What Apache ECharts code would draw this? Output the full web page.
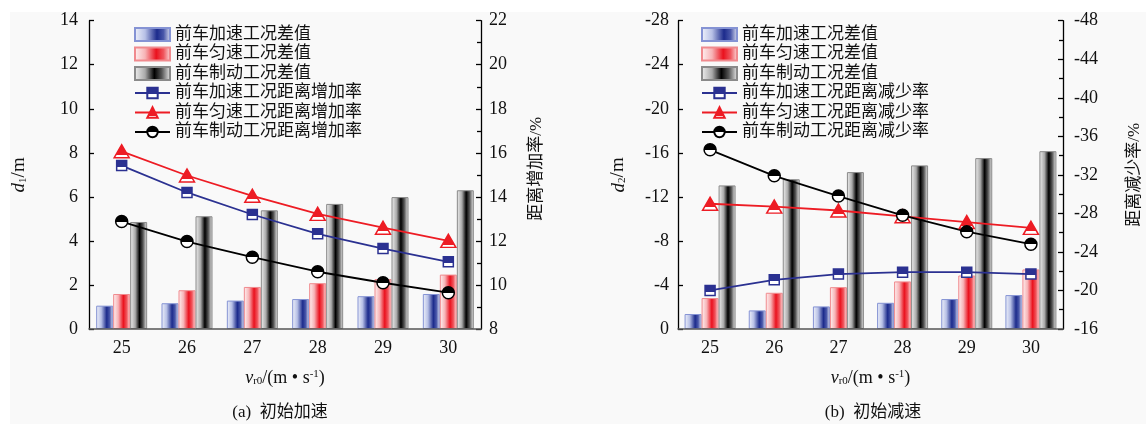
<!DOCTYPE html>
<html>
<head>
<meta charset="utf-8">
<script src="https://cdn.jsdelivr.net/npm/echarts@6/dist/echarts.min.js"></script>
<style>
  html, body { margin: 0; padding: 0; background: #fff; }
  #main { width: 1146px; height: 424px; }
</style>
</head>
<body>
<div id="main"></div>
<script>
// 横轴 v_r0
var categories = ['25', '26', '27', '28', '29', '30'];

// (a) 初始加速
var accBarA = [1.06, 1.17, 1.29, 1.36, 1.49, 1.59];
var uniBarA = [1.59, 1.76, 1.91, 2.08, 2.27, 2.47];
var brkBarA = [4.86, 5.12, 5.39, 5.68, 5.99, 6.30];
var accRateA = [15.42, 14.2, 13.2, 12.32, 11.65, 11.05];
var uniRateA = [16.07, 14.97, 14.05, 13.23, 12.6, 12.0];
var brkRateA = [12.88, 11.97, 11.26, 10.6, 10.1, 9.65];

// (b) 初始减速
var accBarB = [-1.36, -1.69, -2.05, -2.38, -2.72, -3.08];
var uniBarB = [-2.81, -3.29, -3.80, -4.32, -4.86, -5.41];
var brkBarB = [-13.04, -13.6, -14.25, -14.86, -15.52, -16.15];
var accRateB = [-20.0, -21.1, -21.7, -21.9, -21.9, -21.7];
var uniRateB = [-29.0, -28.7, -28.3, -27.7, -27.1, -26.5];
var brkRateB = [-34.6, -31.9, -29.8, -27.8, -26.1, -24.8];

// 坐标刻度
var leftTicksA = [0, 2, 4, 6, 8, 10, 12, 14];
var rightTicksA = [8, 10, 12, 14, 16, 18, 20, 22];
var leftTicksB = [-28, -24, -20, -16, -12, -8, -4, 0];
var rightTicksB = [-48, -44, -40, -36, -32, -28, -24, -20, -16];

var barNames = ['前车加速工况差值', '前车匀速工况差值', '前车制动工况差值'];
var lineNamesA = ['前车加速工况距离增加率', '前车匀速工况距离增加率', '前车制动工况距离增加率'];
var lineNamesB = ['前车加速工况距离减少率', '前车匀速工况距离减少率', '前车制动工况距离减少率'];

var SERIF = "'Liberation Serif', 'Noto Sans CJK SC'";
var BLUE = '#2b3191', RED = '#ed1c24', BLACK = '#000';

function hGrad(stops) {
  return {
    type: 'linear', x: 0, y: 0, x2: 1, y2: 0,
    colorStops: stops.map(function (s) { return { offset: s[0], color: s[1] }; })
  };
}
// 半填充的标记
function halfFill(c, k) {
  return {
    type: 'linear', x: 0, y: 0, x2: 0, y2: 1,
    colorStops: [
      { offset: 0, color: c }, { offset: k, color: c },
      { offset: k, color: '#fff' }, { offset: 1, color: '#fff' }
    ]
  };
}

var barStyles = [
  { color: hGrad([[0, '#f2f4fb'], [0.3, '#b7c0e6'], [0.62, '#1c2b8c'], [0.8, '#4a58aa'], [1, '#e6e9f6']]), borderColor: '#8593d4', borderWidth: 1 },
  { color: hGrad([[0, '#fff4f4'], [0.3, '#f7b3b6'], [0.6, '#ea111d'], [0.8, '#f0575e'], [1, '#fde6e6']]), borderColor: '#f08a8e', borderWidth: 1 },
  { color: hGrad([[0, '#f2f2f2'], [0.3, '#a9a9a9'], [0.55, '#000'], [0.75, '#555'], [1, '#f4f4f4']]), borderColor: '#8a8a8a', borderWidth: 1 }
];
var lineDefs = [
  { color: BLUE, symbol: 'rect', size: [10, 10], k: 0.62 },
  { color: RED, symbol: 'triangle', size: [15, 13], k: 0.75 },
  { color: BLACK, symbol: 'circle', size: 12, k: 0.5 }
];

function bars(data, i, gi) {
  return {
    name: barNames[i], type: 'bar', xAxisIndex: gi, yAxisIndex: gi * 2,
    data: data, barWidth: 17, barGap: '0%', itemStyle: barStyles[i], z: 2
  };
}
function line(name, data, i, gi) {
  var d = lineDefs[i];
  return {
    name: name, type: 'line', xAxisIndex: gi, yAxisIndex: gi * 2 + 1,
    data: data, symbol: d.symbol, symbolSize: d.size, showAllSymbol: true,
    lineStyle: { color: d.color, width: 1.8 },
    itemStyle: { color: halfFill(d.color, d.k), borderColor: d.color, borderWidth: 1.5 },
    z: 4
  };
}

function xAx(gi) {
  return {
    type: 'category', gridIndex: gi, data: categories, z: 10,
    name: '{i|v}{sub|r0}{n|/(m • s}{sup|-1}{n|)}',
    nameLocation: 'middle', nameGap: 40,
    nameTextStyle: {
      rich: {
        i: { fontFamily: SERIF, fontSize: 18, fontStyle: 'italic', color: '#111' },
        n: { fontFamily: SERIF, fontSize: 18, color: '#111' },
        sub: { fontFamily: SERIF, fontSize: 11, color: '#111', verticalAlign: 'bottom', padding: [6, 0, 0, 0] },
        sup: { fontFamily: SERIF, fontSize: 11, color: '#111', verticalAlign: 'top', padding: [0, 0, 6, 0] }
      }
    },
    axisLine: { lineStyle: { color: '#555', width: 1.5 } },
    axisTick: { alignWithLabel: true, inside: true, length: 6, lineStyle: { color: '#000', width: 1.5 } },
    axisLabel: { fontFamily: SERIF, fontSize: 18, color: '#111', margin: 10 }
  };
}

function yAx(gi, ticks, pos, opts) {
  var lo = Math.min.apply(null, ticks), hi = Math.max.apply(null, ticks);
  return {
    type: 'value', gridIndex: gi, position: pos, min: lo, max: hi,
    interval: Math.abs(ticks[1] - ticks[0]),
    inverse: !!opts.inverse,
    name: opts.name, nameLocation: 'middle', nameRotate: 90, nameGap: opts.gap,
    nameTextStyle: opts.nameStyle,
    splitLine: { show: false },
    axisLine: { show: true, onZero: false, lineStyle: { color: '#000', width: 1.3 } },
    axisTick: { show: true, inside: true, length: 5, lineStyle: { color: '#000', width: 1.3 } },
    minorTick: { show: !!opts.minor, splitNumber: 2, length: 4, lineStyle: { color: '#000', width: 1.3 } },
    axisLabel: { fontFamily: SERIF, fontSize: 18, color: '#111', margin: opts.margin }
  };
}

var dStyle = {
  rich: {
    i: { fontFamily: SERIF, fontSize: 19, fontStyle: 'italic', color: '#111' },
    n: { fontFamily: SERIF, fontSize: 19, color: '#111' },
    sub: { fontFamily: SERIF, fontSize: 11, color: '#111', verticalAlign: 'bottom', padding: [6, 0, 0, 0] }
  }
};
var cnName = { fontFamily: SERIF, fontSize: 17, color: '#111' };

var legendBase = {
  orient: 'vertical', top: 21, itemWidth: 35, itemHeight: 13, itemGap: 2.5,
  selectedMode: false,
  textStyle: { fontFamily: SERIF, fontSize: 17, color: '#111', lineHeight: 17 }
};
function legendData(lineNames) {
  return barNames.map(function (n) { return { name: n, icon: 'rect' }; }).concat(lineNames);
}

var myChart = echarts.init(document.getElementById('main'));
myChart.setOption({
  animation: false,
  backgroundColor: '#fff',
  graphic: [
    { type: 'rect', z: -100, shape: { x: 10, y: 12, width: 1136, height: 412 }, style: { fill: '#f9f9f9' } },
    { type: 'text', x: 280, y: 413, style: { text: '(a)  初始加速', font: '17px ' + SERIF, fill: '#111', textAlign: 'center', textVerticalAlign: 'middle' } },
    { type: 'text', x: 873, y: 413, style: { text: '(b)  初始减速', font: '17px ' + SERIF, fill: '#111', textAlign: 'center', textVerticalAlign: 'middle' } }
  ],
  grid: [
    { left: 89, right: 665, top: 20.7, bottom: 95 },
    { left: 678, right: 83, top: 20.7, bottom: 95 }
  ],
  legend: [
    Object.assign({ left: 129, data: legendData(lineNamesA) }, legendBase),
    Object.assign({ left: 696, data: legendData(lineNamesB) }, legendBase)
  ],
  xAxis: [xAx(0), xAx(1)],
  yAxis: [
    yAx(0, leftTicksA, 'left', { name: '{i|d}{sub|1}{n|/m}', gap: 60, nameStyle: dStyle, margin: 11 }),
    yAx(0, rightTicksA, 'right', { name: '距离增加率/%', gap: 47, nameStyle: Object.assign({ padding: [0, 0, 0, 12] }, cnName), margin: 8, minor: true }),
    yAx(1, leftTicksB, 'left', { name: '{i|d}{sub|2}{n|/m}', gap: 50, nameStyle: dStyle, margin: 9, inverse: true }),
    yAx(1, rightTicksB, 'right', { name: '距离减少率/%', gap: 63, nameStyle: cnName, margin: 11, minor: true, inverse: true })
  ],
  series: [
    bars(accBarA, 0, 0), bars(uniBarA, 1, 0), bars(brkBarA, 2, 0),
    line(lineNamesA[0], accRateA, 0, 0), line(lineNamesA[1], uniRateA, 1, 0), line(lineNamesA[2], brkRateA, 2, 0),
    bars(accBarB, 0, 1), bars(uniBarB, 1, 1), bars(brkBarB, 2, 1),
    line(lineNamesB[0], accRateB, 0, 1), line(lineNamesB[1], uniRateB, 1, 1), line(lineNamesB[2], brkRateB, 2, 1)
  ]
});
</script>
</body>
</html>
